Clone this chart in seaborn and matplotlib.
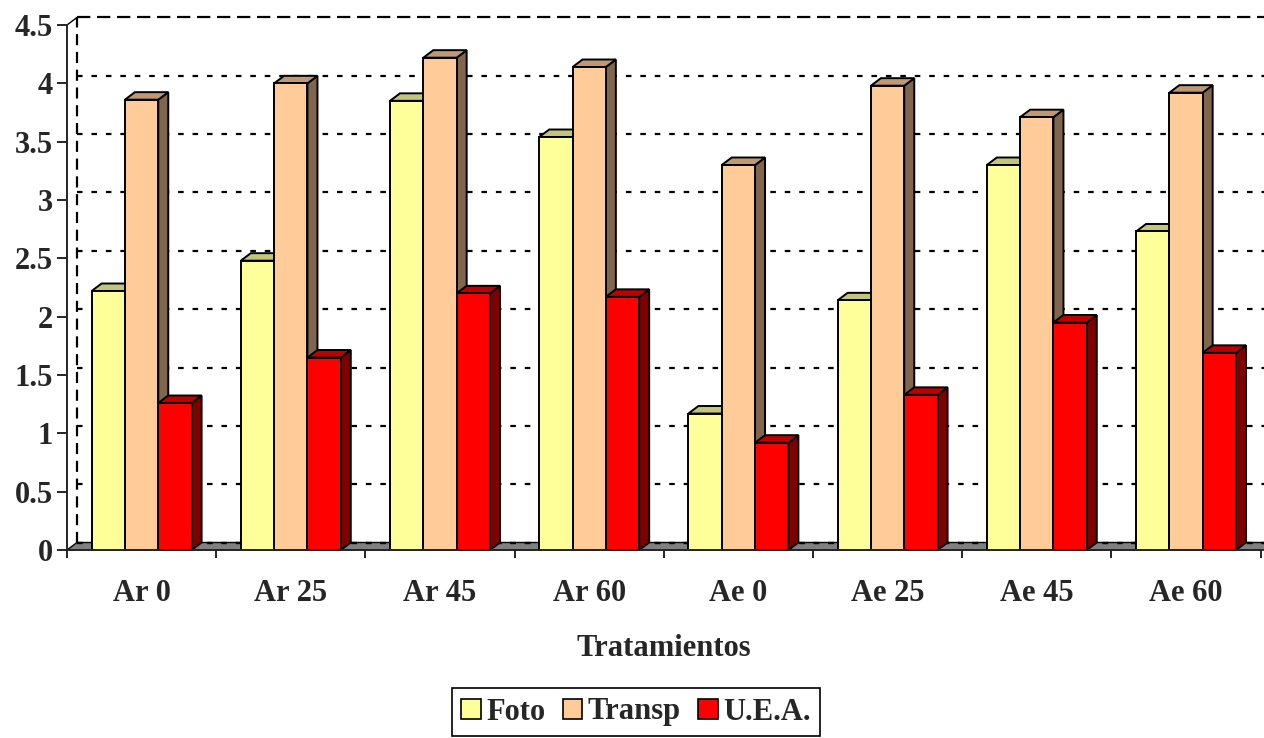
import numpy as np
import pandas as pd
import matplotlib
matplotlib.use("Agg")
import matplotlib.pyplot as plt
from matplotlib.patches import Polygon
import seaborn as sns

# Data
tratamientos = ["Ar 0", "Ar 25", "Ar 45", "Ar 60", "Ae 0", "Ae 25", "Ae 45", "Ae 60"]
series = ["Foto", "Transp", "U.E.A."]
foto = [2.22, 2.48, 3.85, 3.54, 1.17, 2.14, 3.30, 2.73]
transp = [3.86, 4.00, 4.22, 4.14, 3.30, 3.98, 3.71, 3.92]
uea = [1.26, 1.65, 2.20, 2.17, 0.92, 1.33, 1.95, 1.69]
yticks = [0, 0.5, 1, 1.5, 2, 2.5, 3, 3.5, 4, 4.5]

front_colors = ["#FFFF99", "#FFCC99", "#FF0000"]
top_colors = ["#C4C47A", "#BF9973", "#C00000"]
side_colors = ["#80804D", "#80664D", "#800000"]

df = pd.DataFrame({
    "Tratamiento": tratamientos * 3,
    "Serie": np.repeat(series, len(tratamientos)),
    "valor": foto + transp + uea,
})

sns.set_style("white")
plt.rcParams["font.family"] = ["Liberation Serif", "DejaVu Serif"]
plt.rcParams["font.weight"] = "bold"
FS = 22

W, H, DPI = 1264, 738, 100
fig = plt.figure(figsize=(W / DPI, H / DPI), dpi=DPI)
left_px, right_px, bottom_px, top_px = 67, 1260.6, 550, 25
ax = fig.add_axes([left_px / W, 1 - bottom_px / H,
                   (right_px - left_px) / W, (bottom_px - top_px) / H])

sns.barplot(data=df, x="Tratamiento", y="valor", hue="Serie", order=tratamientos,
            hue_order=series, palette=front_colors, width=0.67, gap=0,
            edgecolor="black", linewidth=1.4, saturation=1, legend=False, ax=ax)

ax.set_xlim(-0.5, len(tratamientos) - 0.5)
ax.set_ylim(0, 4.5)

# depth offset of the 3D box (pixels -> data units)
dx_px, dy_px = 10.0, 7.5
ux = len(tratamientos) / (right_px - left_px)
uy = 4.5 / (bottom_px - top_px)
ddx, ddy = dx_px * ux, dy_px * uy

x0, x1 = -0.5, len(tratamientos) - 0.5

# back wall gridlines
for v in yticks[:-1]:
    ax.plot([x0 + ddx, x1 + ddx + 0.2], [v + ddy, v + ddy], color="black", lw=1.6,
            ls=(0, (2.5, 4)), zorder=1.5, clip_on=False)
ax.plot([x0 + ddx, x1 + ddx + 0.2], [4.5 + ddy, 4.5 + ddy], color="black", lw=1.6,
        ls=(0, (6, 3)), zorder=1.5, clip_on=False)
ax.plot([x0 + ddx, x0 + ddx], [ddy, 4.5 + ddy], color="black", lw=1.6,
        ls=(0, (5, 3)), zorder=1.5, clip_on=False)
ax.plot([x0, x0 + ddx], [4.5, 4.5 + ddy], color="black", lw=1.0, zorder=1.5, clip_on=False)

# floor
floor = Polygon([[x0, 0], [x1 + 0.2, 0], [x1 + 0.2 + ddx, ddy], [x0 + ddx, ddy]],
                closed=True, facecolor="#808080", edgecolor="black", lw=1.0,
                zorder=1.2, clip_on=False)
ax.add_patch(floor)
ax.plot([x0 + ddx, x1 + ddx + 0.2], [ddy, ddy], color="black", lw=1.6,
        ls=(0, (2.5, 4)), zorder=1.3, clip_on=False)

# side and top faces of each bar
for i, cont in enumerate(ax.containers):
    for bar in cont:
        bx, bw, bh = bar.get_x(), bar.get_width(), bar.get_height()
        z = 3 + i * 0.1
        side = Polygon([[bx + bw, 0], [bx + bw + ddx, ddy], [bx + bw + ddx, bh + ddy], [bx + bw, bh]],
                       closed=True, facecolor=side_colors[i], edgecolor="black", lw=1.4,
                       zorder=z, clip_on=False)
        top = Polygon([[bx, bh], [bx + ddx, bh + ddy], [bx + bw + ddx, bh + ddy], [bx + bw, bh]],
                      closed=True, facecolor=top_colors[i], edgecolor="black", lw=1.4,
                      zorder=z, clip_on=False)
        ax.add_patch(side)
        ax.add_patch(top)
        bar.set_zorder(z + 0.05)
        bar.set_clip_on(False)

# axes styling
for s in ["top", "right"]:
    ax.spines[s].set_visible(False)
ax.spines["left"].set_linewidth(1.4)
ax.spines["bottom"].set_linewidth(1.4)
ax.spines["left"].set_zorder(5)
ax.spines["bottom"].set_zorder(5)

ax.set_yticks(yticks)
ax.set_yticklabels([f"{v:g}" for v in yticks])
ax.tick_params(axis="y", direction="out", length=7, width=1.4, pad=3, labelsize=FS, left=True)
ax.set_xticks(range(len(tratamientos)))
ax.set_xticklabels(tratamientos)
ax.set_xticks(np.arange(-0.5, len(tratamientos)), minor=True)
ax.tick_params(axis="x", which="major", length=0, pad=21, labelsize=FS)
ax.tick_params(axis="x", which="minor", direction="out", length=6, width=1.4, bottom=True)
for lab in ax.get_xticklabels() + ax.get_yticklabels():
    lab.set_fontweight("bold")

ax.set_xlabel("Tratamientos", fontsize=FS, fontweight="bold", va="center")
ax.xaxis.set_label_coords(0.5, (bottom_px - 649) / (bottom_px - top_px))
ax.set_ylabel("")

handles = [plt.Rectangle((0, 0), 1, 1, facecolor=c, edgecolor="black", lw=1.2) for c in front_colors]
leg = fig.legend(handles, series, loc="center", bbox_to_anchor=(636 / W, 1 - 712 / H), ncol=3,
                 frameon=True, fancybox=False, edgecolor="black", framealpha=1,
                 prop={"size": FS, "weight": "bold"}, handlelength=0.65, handleheight=0.65,
                 handletextpad=0.18, columnspacing=0.55, borderpad=0.3, borderaxespad=0)
leg.get_frame().set_linewidth(1.2)

fig.savefig("out.png", dpi=DPI)
